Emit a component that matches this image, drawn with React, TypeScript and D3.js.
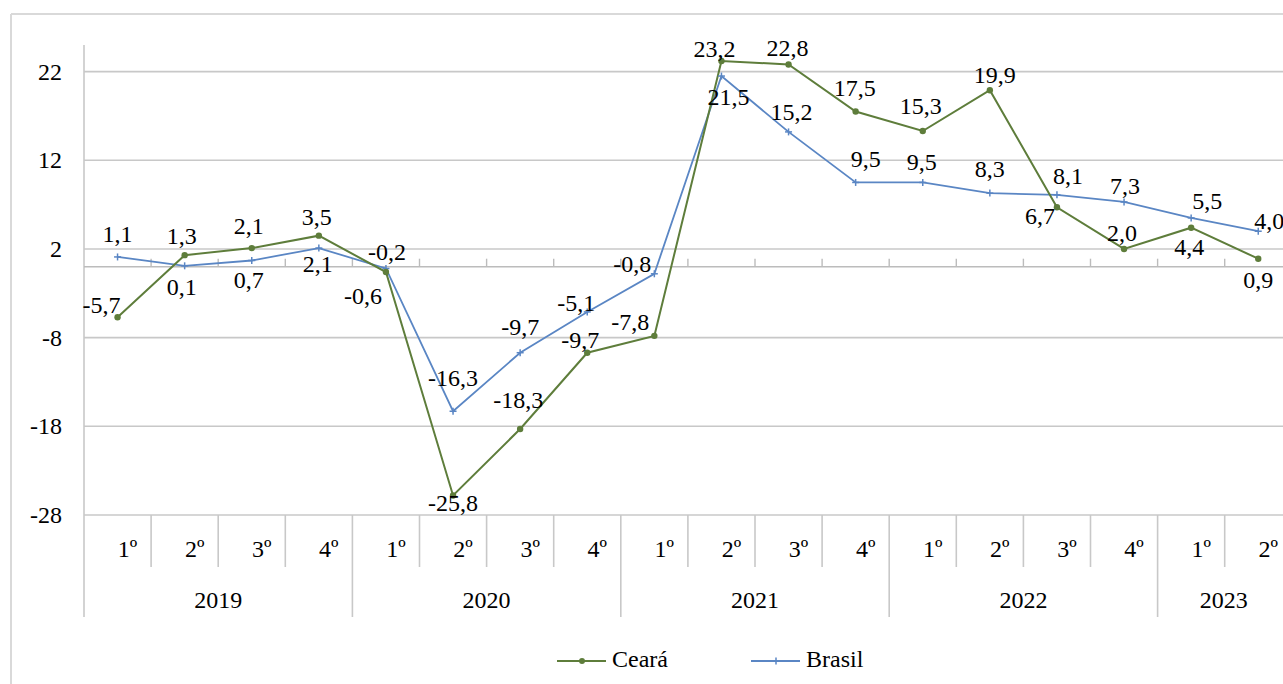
import React from "react";
import * as d3 from "d3";

const quarters = ["1º","2º","3º","4º","1º","2º","3º","4º","1º","2º","3º","4º","1º","2º","3º","4º","1º","2º"];
const years = [
  { label: "2019", count: 4 },
  { label: "2020", count: 4 },
  { label: "2021", count: 4 },
  { label: "2022", count: 4 },
  { label: "2023", count: 2 },
];
const ceara = [-5.7, 1.3, 2.1, 3.5, -0.6, -25.8, -18.3, -9.7, -7.8, 23.2, 22.8, 17.5, 15.3, 19.9, 6.7, 2.0, 4.4, 0.9];
const brasil = [1.1, 0.1, 0.7, 2.1, -0.2, -16.3, -9.7, -5.1, -0.8, 21.5, 15.2, 9.5, 9.5, 8.3, 8.1, 7.3, 5.5, 4.0];
const yTicks = [22, 12, 2, -8, -18, -28];

// label offsets (label centre relative to point), layout only
const cearaLabelOffset: [number, number][] = [
  [-16, -12], [-3, -19], [-3, -22], [-2, -19], [-23, 24], [0, 8], [-2, -29], [-7, -13], [-24, -14],
  [-7, -12], [-1, -17], [-1, -24], [-2, -25], [5, -15], [-17, 9], [-2, -16], [-2, 19], [0, 21],
];
const brasilLabelOffset: [number, number][] = [
  [0, -23], [-3, 21], [-3, 20], [-1, 16], [1, -16], [0, -33], [0, -26], [-11, -9], [-22, -10],
  [7, 21], [3, -20], [10, -23], [-1, -20], [0, -24], [11, -19], [1, -16], [16, -17], [11, -10],
];

const W = 1283;
const H = 684;
const plotLeft = 84;
const catW = 67.1;
const plotTop = 45;
const plotBottom = 515;
const font = "'Liberation Serif', 'Times New Roman', Times, Tinos, 'Nimbus Roman', 'Nimbus Roman No9 L', 'Noto Serif', 'DejaVu Serif', FreeSerif, serif";
const fs = 24;
const greenC = "#5e7d3b";
const blueC = "#5a86c4";
const gridC = "#c8c8c8";

const fmt = (v: number) => v.toFixed(1).replace(".", ",");

export default function App() {
  const n = quarters.length;
  const x = d3.scaleBand<number>().domain(d3.range(n)).range([plotLeft, plotLeft + catW * n]).padding(0);
  const cx = (i: number) => (x(i) as number) + x.bandwidth() / 2;
  const y = d3.scaleLinear().domain([-28, 25]).range([plotBottom, plotTop]);
  const line = d3.line<number>().x((_, i) => cx(i)).y((d) => y(d));

  const y0 = y(0);
  let acc = 0;
  const yearBounds = years.map((yr) => {
    const start = acc;
    acc += yr.count;
    return { ...yr, start, end: acc };
  });

  const tStyle = { fontFamily: font, fontSize: fs + "px" };

  return (
    <svg
      width={W}
      height={H}
      style={{ position: "absolute", left: 0, top: 0, background: "#fff", fontFamily: font }}
    >
      <rect x={0} y={0} width={W} height={H} fill="#fff" />
      {/* outer frame */}
      <line x1={11} y1={14} x2={W} y2={14} stroke="#d9d9d9" strokeWidth={2} />
      <line x1={11} y1={14} x2={11} y2={H} stroke="#d9d9d9" strokeWidth={2} />

      {/* gridlines */}
      {yTicks.map((t) => (
        <g key={t}>
          <line x1={plotLeft} x2={W} y1={y(t)} y2={y(t)} stroke={gridC} strokeWidth={1.6} />
          <text x={62} y={y(t) + 8} textAnchor="end" style={tStyle} fill="#000">
            {t}
          </text>
        </g>
      ))}

      {/* vertical axis */}
      <line x1={plotLeft} x2={plotLeft} y1={plotTop} y2={617} stroke={gridC} strokeWidth={1.6} />

      {/* zero axis with ticks */}
      <line x1={plotLeft} x2={W} y1={y0} y2={y0} stroke="#bcbcbc" strokeWidth={1.6} />
      {d3.range(1, n + 1).map((i) => (
        <line
          key={"zt" + i}
          x1={plotLeft + catW * i}
          x2={plotLeft + catW * i}
          y1={y0 - 8}
          y2={y0}
          stroke="#bcbcbc"
          strokeWidth={1.4}
        />
      ))}

      {/* category separators */}
      {d3.range(1, n + 1).map((i) => {
        const isYear = yearBounds.some((yb) => yb.end === i);
        return (
          <line
            key={"cs" + i}
            x1={plotLeft + catW * i}
            x2={plotLeft + catW * i}
            y1={plotBottom}
            y2={isYear ? 617 : 567}
            stroke={gridC}
            strokeWidth={1.6}
          />
        );
      })}
      {quarters.map((q, i) => (
        <text key={"q" + i} x={cx(i) + 10} y={557} textAnchor="middle" style={tStyle} fill="#000">
          {q}
        </text>
      ))}
      {yearBounds.map((yb) => (
        <text
          key={yb.label}
          x={(plotLeft + catW * yb.start + plotLeft + catW * yb.end) / 2 + (yb.label === "2023" ? -1 : 0)}
          y={608}
          textAnchor="middle"
          style={tStyle}
          fill="#000"
        >
          {yb.label}
        </text>
      ))}

      {/* series */}
      <path d={line(brasil) || ""} fill="none" stroke={blueC} strokeWidth={1.8} />
      <path d={line(ceara) || ""} fill="none" stroke={greenC} strokeWidth={2} />
      {brasil.map((v, i) => (
        <g key={"bm" + i} stroke={blueC} strokeWidth={1.5}>
          <line x1={cx(i)} x2={cx(i)} y1={y(v) - 3.5} y2={y(v) + 3.5} />
          <line x1={cx(i) - 3.5} x2={cx(i) + 3.5} y1={y(v)} y2={y(v)} />
        </g>
      ))}
      {ceara.map((v, i) => (
        <circle key={"cm" + i} cx={cx(i)} cy={y(v)} r={3.2} fill={greenC} />
      ))}

      {/* labels */}
      {brasil.map((v, i) => (
        <text
          key={"bl" + i}
          x={cx(i) + brasilLabelOffset[i][0]}
          y={y(v) + brasilLabelOffset[i][1] + 8}
          textAnchor="middle"
          style={tStyle}
          fill="#000"
        >
          {fmt(v)}
        </text>
      ))}
      {ceara.map((v, i) => (
        <text
          key={"cl" + i}
          x={cx(i) + cearaLabelOffset[i][0]}
          y={y(v) + cearaLabelOffset[i][1] + 8}
          textAnchor="middle"
          style={tStyle}
          fill="#000"
        >
          {fmt(v)}
        </text>
      ))}

      {/* legend */}
      <line x1={557} x2={606} y1={661} y2={661} stroke={greenC} strokeWidth={2} />
      <circle cx={582} cy={661} r={3} fill={greenC} />
      <text x={612} y={667} style={tStyle} fill="#000">
        Ceará
      </text>
      <line x1={751} x2={800} y1={661} y2={661} stroke={blueC} strokeWidth={1.8} />
      <line x1={776} x2={776} y1={657.5} y2={664.5} stroke={blueC} strokeWidth={1.5} />
      <text x={806} y={667} style={tStyle} fill="#000">
        Brasil
      </text>
    </svg>
  );
}
